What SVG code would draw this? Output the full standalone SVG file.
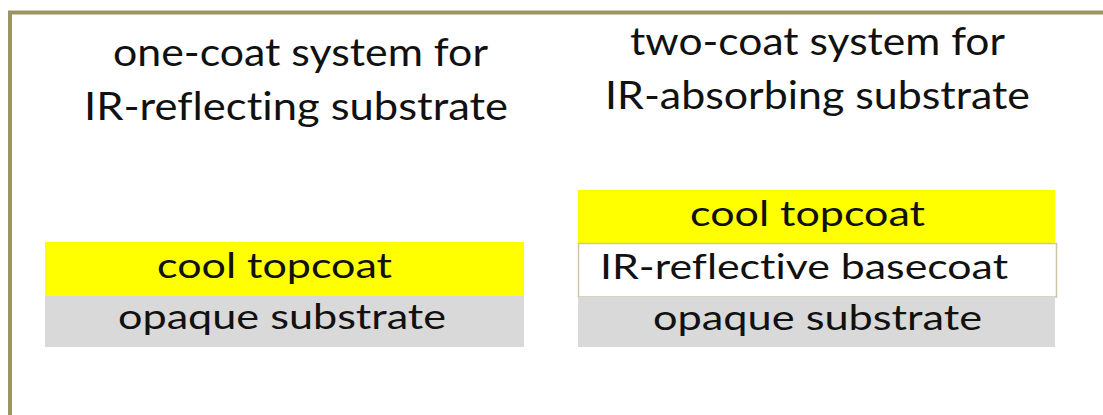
<svg xmlns="http://www.w3.org/2000/svg" width="1103" height="415" viewBox="0 0 1103 415">
  <style>
    .t { font-family: Lato, "Open Sans", sans-serif; fill: #111; font-variant-ligatures: none; font-feature-settings: "liga" 0, "clig" 0; }
    .title { font-size: 38px; }
    .lab { font-size: 35px; }
    .yellow { fill: #ffff00; }
    .gray { fill: #d9d9d9; }
    .white { fill: #ffffff; stroke: #cfc6a6; stroke-width: 1.5; }
  </style>
  <rect x="0" y="0" width="1103" height="415" fill="#ffffff"/>
  <path d="M10,415 V12.5 H1103" fill="none" stroke="#9b9465" stroke-width="4"/>
  <g id="title-left">
    <text class="t title" x="113" y="66" textLength="375" lengthAdjust="spacingAndGlyphs">one-coat system for</text>
    <text class="t title" x="84" y="120" textLength="424" lengthAdjust="spacingAndGlyphs">IR-reflecting substrate</text>
  </g>
  <g id="title-right">
    <text class="t title" x="630" y="55" textLength="375" lengthAdjust="spacingAndGlyphs">two-coat system for</text>
    <text class="t title" x="605" y="109" textLength="425" lengthAdjust="spacingAndGlyphs">IR-absorbing substrate</text>
  </g>
  <g id="left-topcoat">
    <rect class="yellow" x="45" y="242" width="479" height="54"/>
    <text class="t lab" x="157" y="278" textLength="235" lengthAdjust="spacingAndGlyphs">cool topcoat</text>
  </g>
  <g id="left-substrate">
    <rect class="gray" x="45" y="296" width="479" height="51"/>
    <text class="t lab" x="118" y="329" textLength="328" lengthAdjust="spacingAndGlyphs">opaque substrate</text>
  </g>
  <g id="right-topcoat">
    <rect class="yellow" x="578" y="190" width="477" height="53"/>
    <text class="t lab" x="690" y="226" textLength="235" lengthAdjust="spacingAndGlyphs">cool topcoat</text>
  </g>
  <g id="right-basecoat">
    <rect class="white" x="578.5" y="243.5" width="478" height="53.5"/>
    <text class="t lab" x="600" y="279" textLength="408" lengthAdjust="spacingAndGlyphs">IR-reflective basecoat</text>
  </g>
  <g id="right-substrate">
    <rect class="gray" x="578" y="297" width="477" height="50"/>
    <text class="t lab" x="653" y="330" textLength="329" lengthAdjust="spacingAndGlyphs">opaque substrate</text>
  </g>
  <g id="connectors"/>
</svg>
